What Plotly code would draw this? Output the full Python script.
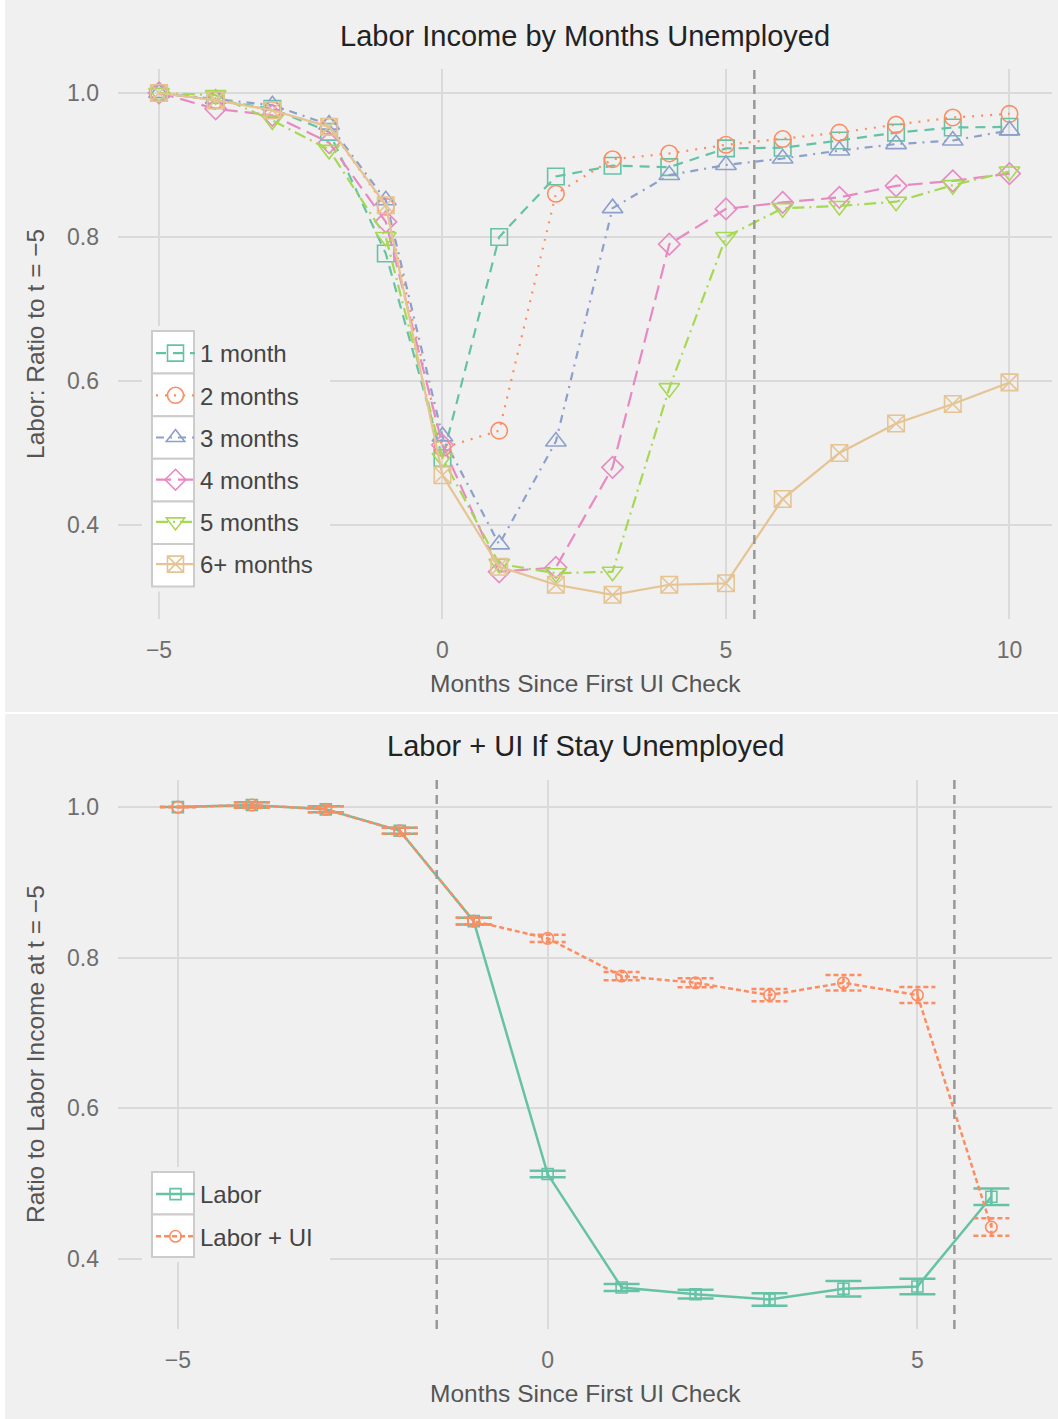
import plotly.graph_objects as go

W, H = 1058, 1419

# ---------------- data ----------------
months_top = list(range(-5, 11))
series_names = ["1 month", "2 months", "3 months", "4 months", "5 months", "6+ months"]
one_month = [1.0, 0.99, 0.978, 0.946, 0.777, 0.493, 0.800, 0.884, 0.899, 0.897, 0.923, 0.924, 0.934, 0.945, 0.952, 0.953]
two_months = [1.0, 0.99, 0.976, 0.953, 0.842, 0.507, 0.531, 0.860, 0.908, 0.916, 0.928, 0.936, 0.945, 0.956, 0.966, 0.971]
three_months = [1.0, 0.992, 0.983, 0.956, 0.851, 0.523, 0.373, 0.516, 0.840, 0.886, 0.900, 0.909, 0.920, 0.929, 0.934, 0.948]
four_months = [1.0, 0.978, 0.969, 0.931, 0.821, 0.511, 0.335, 0.341, 0.480, 0.790, 0.839, 0.848, 0.855, 0.871, 0.878, 0.888]
five_months = [1.0, 0.997, 0.962, 0.921, 0.800, 0.493, 0.346, 0.333, 0.335, 0.590, 0.800, 0.840, 0.843, 0.849, 0.872, 0.891]
six_plus_months = [1.0, 0.99, 0.976, 0.953, 0.844, 0.469, 0.342, 0.317, 0.303, 0.317, 0.319, 0.436, 0.500, 0.541, 0.568, 0.598]

months_bottom = list(range(-5, 7))
bottom_names = ["Labor", "Labor + UI"]
labor = [1.0, 1.0027, 0.997, 0.9686, 0.8486, 0.5126, 0.3619, 0.353, 0.346, 0.3603, 0.3633, 0.4825]
labor_err = [0.0, 0.0037, 0.004, 0.004, 0.0044, 0.0044, 0.0046, 0.0058, 0.0082, 0.0104, 0.0104, 0.011]
labor_ui = [1.0, 1.0027, 0.997, 0.9686, 0.8486, 0.8256, 0.7756, 0.7667, 0.7503, 0.7667, 0.7503, 0.4422]
labor_ui_err = [0.0, 0.0037, 0.004, 0.004, 0.0044, 0.0049, 0.0055, 0.006, 0.0082, 0.0104, 0.0106, 0.0117]

top_cutoffs = [5.5]
bottom_cutoffs = [-1.5, 5.5]
top_xticks = [-5, 0, 5, 10]
bottom_xticks = [-5, 0, 5]
y_ticks = [0.4, 0.6, 0.8, 1.0]

top_title = "Labor Income by Months Unemployed"
bottom_title = "Labor + UI If Stay Unemployed"
x_title = "Months Since First UI Check"
top_ytitle = "Labor: Ratio to t = \u22125"
bottom_ytitle = "Ratio to Labor Income at t = \u22125"

# ---------------- style ----------------
FONT = "Liberation Sans, Arial, sans-serif"
PANEL = "#f0f0f0"
GRID = "#dadada"
colors = ["#66c2a5", "#fc8d62", "#8da0cb", "#e78ac3", "#a6d854", "#e5c494"]
symbols = ["square-open", "circle-open", "triangle-up-open", "diamond-open",
           "triangle-down-open", "square-x-open"]
sizes = [16.5, 16.5, 18, 16.5, 18, 16.5]
dashes = ["10px,7px", "2px,7px", "8px,6px,2px,6px", "15px,7px", "12px,5px,2px,5px", "solid"]

def fx(p):
    return p / W

def fy(p):
    return 1 - p / H

top_series = [one_month, two_months, three_months, four_months, five_months, six_plus_months]

fig = go.Figure()

for i, (name, vals) in enumerate(zip(series_names, top_series)):
    fig.add_trace(go.Scatter(
        x=months_top, y=vals, name=name, mode="lines+markers",
        xaxis="x", yaxis="y", legend="legend", legendgroup=name,
        line=dict(color=colors[i], width=2.2, dash=dashes[i]),
        marker=dict(symbol=symbols[i], size=sizes[i], color=colors[i],
                    line=dict(color=colors[i], width=1.6)),
    ))

# bottom panel
x2_range = [-5.81, 6.82]
cap_px = 18
x2_px = 1052 - 118
cap_w = cap_px * (x2_range[1] - x2_range[0]) / x2_px

fig.add_trace(go.Scatter(
    x=months_bottom, y=labor, name=bottom_names[0], mode="lines+markers",
    xaxis="x2", yaxis="y2", legend="legend2", legendgroup="labor",
    line=dict(color=colors[0], width=2.5),
    marker=dict(symbol="square-open", size=11, color=colors[0],
                line=dict(color=colors[0], width=1.6)),
    error_y=dict(type="data", array=labor_err, width=cap_px, thickness=2.5,
                 color=colors[0]),
))

# dashed error bars for Labor + UI
ex, ey = [], []
for xv, yv, ev in zip(months_bottom, labor_ui, labor_ui_err):
    lo, hi = yv - ev, yv + ev
    ex += [xv - cap_w, xv + cap_w, None, xv - cap_w, xv + cap_w, None, xv, xv, None]
    ey += [hi, hi, None, lo, lo, None, lo, hi, None]
fig.add_trace(go.Scatter(
    x=ex, y=ey, mode="lines", xaxis="x2", yaxis="y2", showlegend=False,
    hoverinfo="skip", line=dict(color=colors[1], width=2.5, dash="5px,3px"),
))

fig.add_trace(go.Scatter(
    x=months_bottom, y=labor_ui, name=bottom_names[1], mode="lines+markers",
    xaxis="x2", yaxis="y2", legend="legend2", legendgroup="ui",
    line=dict(color=colors[1], width=2.5, dash="5px,3px"),
    marker=dict(symbol="circle-open", size=11.5, color=colors[1],
                line=dict(color=colors[1], width=1.6)),
))

shapes = []
# panel backgrounds
shapes.append(dict(type="rect", xref="paper", yref="paper", layer="below",
                   x0=fx(5), x1=1.0, y0=fy(712), y1=1.0,
                   fillcolor=PANEL, line=dict(width=0)))
shapes.append(dict(type="rect", xref="paper", yref="paper", layer="below",
                   x0=fx(5), x1=1.0, y0=0.0, y1=fy(714),
                   fillcolor=PANEL, line=dict(width=0)))

# cutoff lines
for c in top_cutoffs:
    shapes.append(dict(type="line", xref="x", yref="y domain", x0=c, x1=c, y0=0, y1=1,
                       layer="above", line=dict(color="#999999", width=2.5, dash="9px,6px")))
for c in bottom_cutoffs:
    shapes.append(dict(type="line", xref="x2", yref="y2 domain", x0=c, x1=c, y0=0, y1=1,
                       layer="above", line=dict(color="#999999", width=2.5, dash="9px,6px")))

# legend backgrounds and symbol boxes
def legend_boxes(top_px, n, step):
    out = [dict(type="rect", xref="paper", yref="paper", layer="above",
                x0=fx(142), x1=fx(330), y0=fy(top_px + n * step + 5), y1=fy(top_px - 5),
                fillcolor=PANEL, line=dict(width=0))]
    for k in range(n):
        out.append(dict(type="rect", xref="paper", yref="paper", layer="above",
                        x0=fx(152), x1=fx(194), y0=fy(top_px + (k + 1) * step),
                        y1=fy(top_px + k * step),
                        fillcolor="white", line=dict(color="#cccccc", width=2)))
    return out

shapes += legend_boxes(331, 6, 42.6)
shapes += legend_boxes(1172, 2, 42.5)

annotations = [
    dict(text=top_title, x=fx(585), y=fy(36), xref="paper", yref="paper",
         showarrow=False, font=dict(size=29, color="#222222", family=FONT),
         xanchor="center", yanchor="middle"),
    dict(text=bottom_title, x=fx(585), y=fy(746), xref="paper", yref="paper",
         showarrow=False, font=dict(size=29, color="#222222", family=FONT),
         xanchor="center", yanchor="middle"),
    dict(text=x_title, x=fx(585), y=fy(683), xref="paper", yref="paper",
         showarrow=False, font=dict(size=24.5, color="#555555", family=FONT),
         xanchor="center", yanchor="middle"),
    dict(text=x_title, x=fx(585), y=fy(1393), xref="paper", yref="paper",
         showarrow=False, font=dict(size=24.5, color="#555555", family=FONT),
         xanchor="center", yanchor="middle"),
    dict(text=top_ytitle, x=fx(35), y=fy(344), xref="paper", yref="paper",
         showarrow=False, textangle=-90, font=dict(size=24.5, color="#555555", family=FONT),
         xanchor="center", yanchor="middle"),
    dict(text=bottom_ytitle, x=fx(35), y=fy(1054), xref="paper", yref="paper",
         showarrow=False, textangle=-90, font=dict(size=24.5, color="#555555", family=FONT),
         xanchor="center", yanchor="middle"),
]

axis_common = dict(showgrid=True, gridcolor=GRID, gridwidth=1.5, zeroline=False,
                   showline=False, ticks="", tickfont=dict(size=23, color="#6e6e6e", family=FONT))

legend_common = dict(xanchor="left", yanchor="top", bgcolor="rgba(0,0,0,0)", borderwidth=0,
                     traceorder="grouped", tracegroupgap=8, itemwidth=39,
                     font=dict(size=24, color="#444444", family=FONT))

fig.update_layout(
    width=W, height=H,
    margin=dict(l=0, r=0, t=0, b=0),
    paper_bgcolor="white", plot_bgcolor="rgba(0,0,0,0)",
    font=dict(family=FONT),
    showlegend=True,
    xaxis=dict(domain=[fx(118), fx(1052)], range=[-5.723, 10.75], tickvals=top_xticks,
               anchor="y", ticklabelstandoff=15, **axis_common),
    yaxis=dict(domain=[fy(619), fy(69)], range=[0.2694, 1.0333], tickvals=y_ticks,
               tickformat=".1f", anchor="x", ticklabelstandoff=18, **axis_common),
    xaxis2=dict(domain=[fx(118), fx(1052)], range=x2_range, tickvals=bottom_xticks,
                anchor="y2", ticklabelstandoff=15, **axis_common),
    yaxis2=dict(domain=[fy(1329), fy(780)], range=[0.3068, 1.036], tickvals=y_ticks,
                tickformat=".1f", anchor="x2", ticklabelstandoff=18, **axis_common),
    legend=dict(x=fx(151), y=fy(331), **legend_common),
    legend2=dict(x=fx(151), y=fy(1172), **legend_common),
    shapes=shapes,
    annotations=annotations,
)

fig.write_html(
    "out.html",
    config={"displayModeBar": False},
    post_script="document.body.style.margin='0';document.body.style.overflow='hidden';",
)
